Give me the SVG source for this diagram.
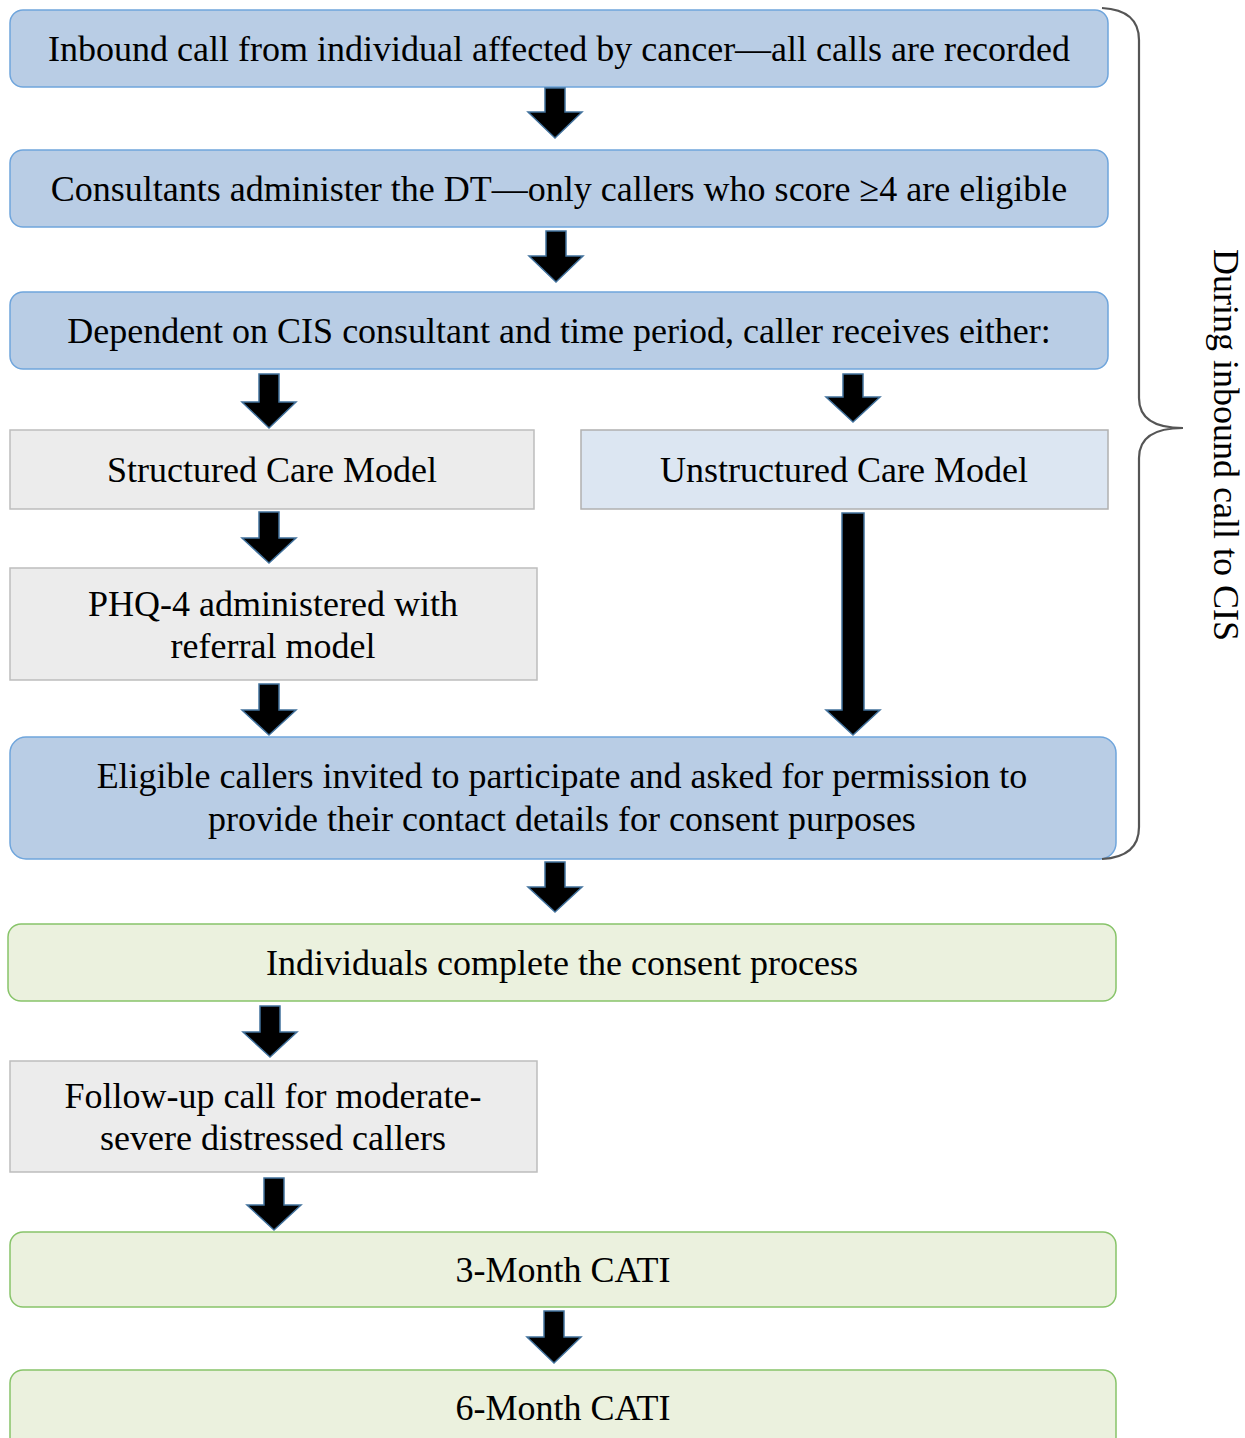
<svg xmlns="http://www.w3.org/2000/svg" width="1245" height="1438" viewBox="0 0 1245 1438">
<defs>
<style>
.t{font-family:"Liberation Serif","Times New Roman",serif;font-size:36px;fill:#000;text-anchor:middle}
.blue{fill:#b9cde5;stroke:#6fa5dc;stroke-width:1.5}
.grey{fill:#ececec;stroke:#bdbdbd;stroke-width:1.5}
.lblue{fill:#dce6f2;stroke:#b0b0b0;stroke-width:1.5}
.green{fill:#ebf1de;stroke:#88c46a;stroke-width:1.5}
.arr{fill:#000;stroke:#41719c;stroke-width:1.5;stroke-linejoin:miter}
.brace{fill:none;stroke:#555;stroke-width:2.2}
</style>
</defs>
<rect width="1245" height="1438" fill="#fff"/>

<g id="n1"><rect class="blue" x="10" y="10" width="1098" height="77" rx="13"/><text class="t" x="559" y="61">Inbound call from individual affected by cancer—all calls are recorded</text></g>
<g id="n2"><rect class="blue" x="10" y="150" width="1098" height="77" rx="13"/><text class="t" x="559" y="201">Consultants administer the DT—only callers who score ≥4 are eligible</text></g>
<g id="n3"><rect class="blue" x="10" y="292" width="1098" height="77" rx="13"/><text class="t" x="559" y="343">Dependent on CIS consultant and time period, caller receives either:</text></g>
<g id="n4"><rect class="grey" x="10" y="430" width="524" height="79"/><text class="t" x="272" y="482">Structured Care Model</text></g>
<g id="n5"><rect class="lblue" x="581" y="430" width="527" height="79"/><text class="t" x="844" y="482">Unstructured Care Model</text></g>
<g id="n6"><rect class="grey" x="10" y="568" width="527" height="112"/><text class="t" x="273" y="616">PHQ-4 administered with</text><text class="t" x="273" y="658">referral model</text></g>
<g id="n7"><rect class="blue" x="10" y="737" width="1106" height="122" rx="16"/><text class="t" x="562" y="788">Eligible callers invited to participate and asked for permission to</text><text class="t" x="562" y="831">provide their contact details for consent purposes</text></g>
<g id="n8"><rect class="green" x="8" y="924" width="1108" height="77" rx="13"/><text class="t" x="562" y="975">Individuals complete the consent process</text></g>
<g id="n9"><rect class="grey" x="10" y="1061" width="527" height="111"/><text class="t" x="273" y="1108">Follow-up call for moderate-</text><text class="t" x="273" y="1150">severe distressed callers</text></g>
<g id="n10"><rect class="green" x="10" y="1232" width="1106" height="75" rx="13"/><text class="t" x="563" y="1282">3-Month CATI</text></g>
<g id="n11"><rect class="green" x="10" y="1370" width="1106" height="80" rx="13"/><text class="t" x="563" y="1420">6-Month CATI</text></g>

<g id="brace">
<path class="brace" d="M1102,8 Q1139,10 1139,40 L1139,398 Q1139,428 1183,428 Q1139,428 1139,458 L1139,827 Q1139,857 1102,859"/>
<text class="t" transform="translate(1214,445) rotate(90)">During inbound call to CIS</text>
</g>

<g id="connectors">
<path class="arr" d="M545,88 L565,88 L565,112 L582,112 L555,138 L528,112 L545,112 Z"/>
<path class="arr" d="M546,231 L566,231 L566,256 L583,256 L556,282 L529,256 L546,256 Z"/>
<path class="arr" d="M259,374 L279,374 L279,402 L296,402 L269,428 L242,402 L259,402 Z"/>
<path class="arr" d="M843,374 L863,374 L863,397 L880,397 L853,422 L826,397 L843,397 Z"/>
<path class="arr" d="M259,512 L279,512 L279,538 L296,538 L269,563 L242,538 L259,538 Z"/>
<path class="arr" d="M842,513 L864,513 L864,710 L880,710 L853,735 L826,710 L842,710 Z"/>
<path class="arr" d="M259,684 L279,684 L279,710 L296,710 L269,735 L242,710 L259,710 Z"/>
<path class="arr" d="M545,862 L565,862 L565,887 L582,887 L555,912 L528,887 L545,887 Z"/>
<path class="arr" d="M260,1006 L280,1006 L280,1032 L297,1032 L270,1057 L243,1032 L260,1032 Z"/>
<path class="arr" d="M264,1178 L284,1178 L284,1205 L301,1205 L274,1230 L247,1205 L264,1205 Z"/>
<path class="arr" d="M544,1311 L564,1311 L564,1337 L581,1337 L554,1363 L527,1337 L544,1337 Z"/>
</g>
</svg>
